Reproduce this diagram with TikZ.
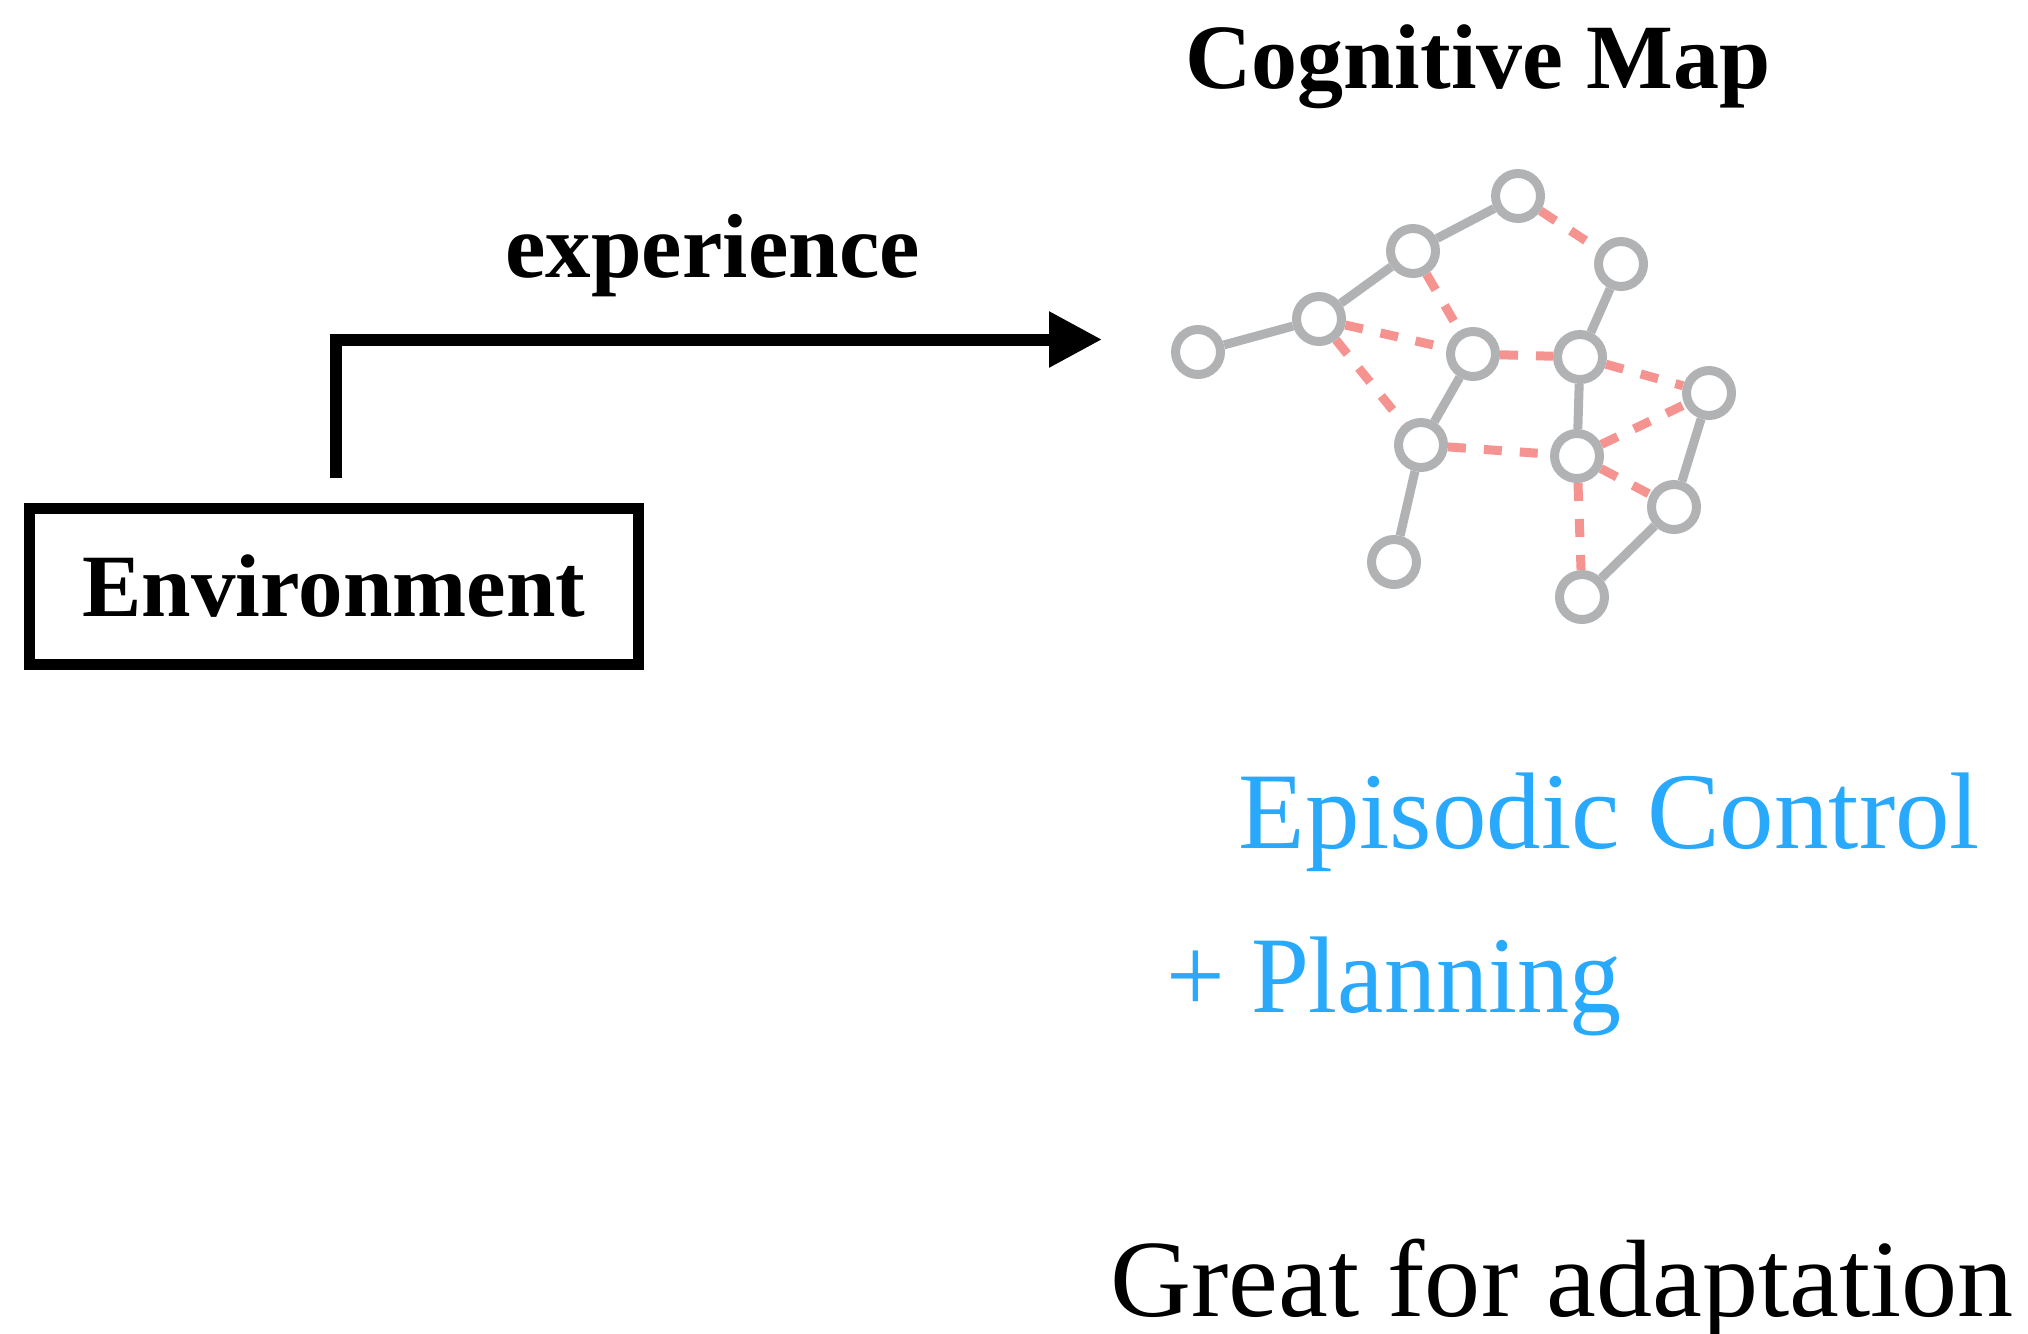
\documentclass[tikz,border=0pt]{standalone}
\usepackage{fontspec}
\setmainfont{Liberation Serif}
\usetikzlibrary{arrows.meta}
\definecolor{nodegray}{HTML}{B1B2B4}
\definecolor{linkred}{HTML}{F4938F}
\definecolor{ecblue}{HTML}{29A9FC}
\begin{document}
\begin{tikzpicture}[x=0.5pt,y=-0.5pt,
  mapnode/.style={circle,draw=nodegray,line width=4.5pt,minimum size=22.5pt,inner sep=0pt},
  solidlink/.style={draw=nodegray,line width=4.5pt},
  dashlink/.style={draw=linkred,line width=4.5pt,dash pattern=on 9pt off 9pt},
  boldlabel/.style={inner sep=0pt,anchor=base west,font=\bfseries},
  bigtext/.style={inner sep=0pt,anchor=base west,font=\fontsize{54.5pt}{60pt}\selectfont},
  flowarrow/.style={line width=6pt,line join=miter,-{Triangle[length=26.5pt,width=26.5pt]}}
]
\useasboundingbox (0,0) rectangle (2028,1333);

% titles and texts
\node[boldlabel,font=\bfseries\fontsize{46pt}{50pt}\selectfont] (title) at (1185,88) {Cognitive Map};
\node[boldlabel,font=\bfseries\fontsize{45.5pt}{50pt}\selectfont] (exp) at (505,277) {experience};
\node[bigtext,text=ecblue] (ec) at (1238,848) {Episodic Control};
\node[bigtext,text=ecblue,font=\fontsize{54.5pt}{60pt}\selectfont\addfontfeature{FakeStretch=0.955}] (plan) at (1166,1012) {+ Planning};
\node[bigtext,font=\fontsize{55pt}{60pt}\selectfont\addfontfeature{FakeStretch=1.02}] (great) at (1110,1316) {Great for adaptation};

% environment box
\node[draw,line width=5.5pt,minimum width=304.5pt,minimum height=78pt,inner sep=0pt,
      font=\bfseries\fontsize{44.5pt}{50pt}\selectfont] (env) at (334,586.5) {Environment};
\coordinate (tip) at (1102,339.5);
\draw[flowarrow] ([xshift=1pt,yshift=12.5pt]env.north) |- (tip);

% cognitive map nodes
\node[mapnode] (A) at (1198,352) {};
\node[mapnode] (B) at (1319,319) {};
\node[mapnode] (C) at (1413,251) {};
\node[mapnode] (D) at (1518,196) {};
\node[mapnode] (E) at (1621,264) {};
\node[mapnode] (F) at (1473,354) {};
\node[mapnode] (G) at (1580,357) {};
\node[mapnode] (H) at (1709,393) {};
\node[mapnode] (I) at (1421,445) {};
\node[mapnode] (J) at (1577,456) {};
\node[mapnode] (K) at (1674,507) {};
\node[mapnode] (L) at (1394,562) {};
\node[mapnode] (M) at (1582,597) {};

% solid links
\draw[solidlink] (A) -- (B);
\draw[solidlink] (B) -- (C);
\draw[solidlink] (C) -- (D);
\draw[solidlink] (E) -- (G);
\draw[solidlink] (F) -- (I);
\draw[solidlink] (G) -- (J);
\draw[solidlink] (I) -- (L);
\draw[solidlink] (H) -- (K);
\draw[solidlink] (K) -- (M);

% dashed links
\draw[dashlink] (D) -- (E);
\draw[dashlink] (C) -- (F);
\draw[dashlink] (B) -- (F);
\draw[dashlink] (B) -- (I);
\draw[dashlink] (F) -- (G);
\draw[dashlink] (G) -- (H);
\draw[dashlink] (J) -- (H);
\draw[dashlink] (I) -- (J);
\draw[dashlink] (J) -- (K);
\draw[dashlink] (J) -- (M);
\end{tikzpicture}
\end{document}
